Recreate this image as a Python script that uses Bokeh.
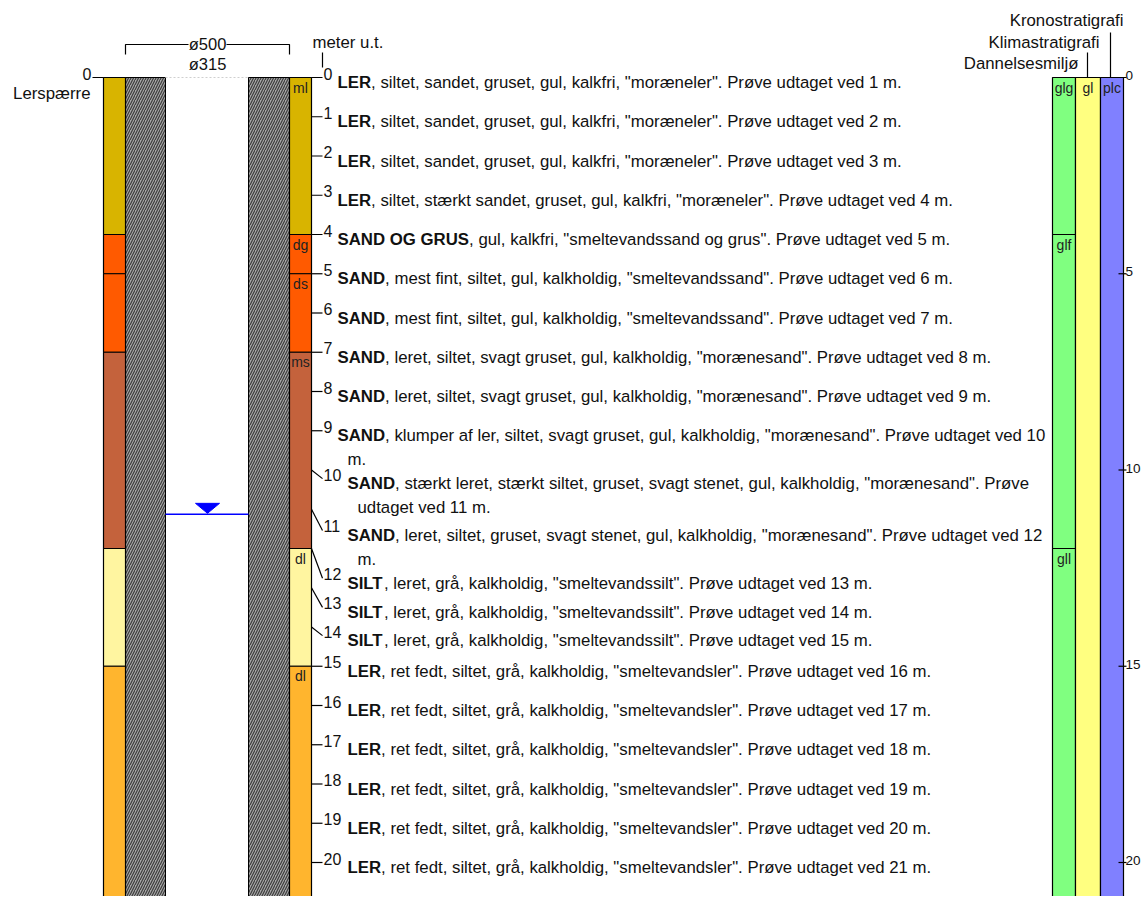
from bokeh.plotting import figure
from bokeh.models import Range1d
from bokeh.core.properties import value
from bokeh.embed import file_html
from bokeh.resources import INLINE

# ---------------- data ----------------
layer_top = [0, 4, 5, 7, 12, 15]
layer_bottom = [4, 5, 7, 12, 15, 22]
layer_code = ["ml", "dg", "ds", "ms", "dl", "dl"]
layer_color = ["#D8B400", "#FF5A00", "#FF5A00", "#C4623C", "#FFF5A0", "#FFB52E"]

env_top = [0, 4, 12]
env_bottom = [4, 12, 22]
env_code = ["glg", "glf", "gll"]

klima_top = [0]
klima_bottom = [22]
klima_code = ["gl"]

krono_top = [0]
krono_bottom = [22]
krono_code = ["plc"]

water_level = 11.13
casing_top = 0
casing_bottom = 22

sample_depth = list(range(21))
# where each description row is anchored (rows 10-14 are pushed down by wrapped text)
label_anchor = [0, 1, 2, 3, 4, 5, 6, 7, 8, 9, 10.22, 11.54, 12.76, 13.50, 14.22,
                15, 16, 17, 18, 19, 20]
desc_bold = ["LER", "LER", "LER", "LER", "SAND OG GRUS", "SAND", "SAND", "SAND", "SAND",
             "SAND", "SAND", "SAND", "SILT", "SILT", "SILT", "LER", "LER", "LER", "LER",
             "LER", "LER"]
desc_rest = [
    ', siltet, sandet, gruset, gul, kalkfri, "moræneler". Prøve udtaget ved 1 m.',
    ', siltet, sandet, gruset, gul, kalkfri, "moræneler". Prøve udtaget ved 2 m.',
    ', siltet, sandet, gruset, gul, kalkfri, "moræneler". Prøve udtaget ved 3 m.',
    ', siltet, stærkt sandet, gruset, gul, kalkfri, "moræneler". Prøve udtaget ved 4 m.',
    ', gul, kalkfri, "smeltevandssand og grus". Prøve udtaget ved 5 m.',
    ', mest fint, siltet, gul, kalkholdig, "smeltevandssand". Prøve udtaget ved 6 m.',
    ', mest fint, siltet, gul, kalkholdig, "smeltevandssand". Prøve udtaget ved 7 m.',
    ', leret, siltet, svagt gruset, gul, kalkholdig, "morænesand". Prøve udtaget ved 8 m.',
    ', leret, siltet, svagt gruset, gul, kalkholdig, "morænesand". Prøve udtaget ved 9 m.',
    ', klumper af ler, siltet, svagt gruset, gul, kalkholdig, "morænesand". Prøve udtaget ved 10\nm.',
    ', stærkt leret, stærkt siltet, gruset, svagt stenet, gul, kalkholdig, "morænesand". Prøve\nudtaget ved 11 m.',
    ', leret, siltet, gruset, svagt stenet, gul, kalkholdig, "morænesand". Prøve udtaget ved 12\nm.',
    ', leret, grå, kalkholdig, "smeltevandssilt". Prøve udtaget ved 13 m.',
    ', leret, grå, kalkholdig, "smeltevandssilt". Prøve udtaget ved 14 m.',
    ', leret, grå, kalkholdig, "smeltevandssilt". Prøve udtaget ved 15 m.',
    ', ret fedt, siltet, grå, kalkholdig, "smeltevandsler". Prøve udtaget ved 16 m.',
    ', ret fedt, siltet, grå, kalkholdig, "smeltevandsler". Prøve udtaget ved 17 m.',
    ', ret fedt, siltet, grå, kalkholdig, "smeltevandsler". Prøve udtaget ved 18 m.',
    ', ret fedt, siltet, grå, kalkholdig, "smeltevandsler". Prøve udtaget ved 19 m.',
    ', ret fedt, siltet, grå, kalkholdig, "smeltevandsler". Prøve udtaget ved 20 m.',
    ', ret fedt, siltet, grå, kalkholdig, "smeltevandsler". Prøve udtaget ved 21 m.',
]
right_ticks = [0, 5, 10, 15, 20]
header_right = ["Kronostratigrafi", "Klimastratigrafi", "Dannelsesmiljø"]

# ---------------- layout helpers ----------------
Y0 = 77.0      # pixel of depth 0
PXM = 39.25    # pixels per metre
W, H = 1141, 896


def off(px):
    return px / PXM


def pyd(py):
    return (py - Y0) / PXM


FONT = value("Liberation Sans")
TXT = "#111111"
FS = 16.8
BOLD_W = {"L": 611, "E": 667, "R": 722, "S": 667, "A": 722, "N": 722, "D": 722,
          "O": 778, "G": 778, "U": 722, "I": 278, "T": 611, " ": 278}

p = figure(width=W, height=H, output_backend="svg", toolbar_location=None,
           x_range=Range1d(0, W), y_range=Range1d(pyd(H), pyd(0)),
           x_axis_type=None, y_axis_type=None, min_border=0,
           outline_line_color=None, background_fill_color="white")
p.grid.visible = False

# ---------- casing (hatched) ----------
p.quad(left=[125, 248], right=[165, 289], top=[casing_top] * 2, bottom=[casing_bottom] * 2,
       fill_color="#a8a8a8", hatch_pattern="/", hatch_color="#3c3c3c", hatch_scale=5,
       hatch_weight=1.2, line_color="black", line_width=1)

# top dotted line inside hole
p.segment(x0=[165], y0=[casing_top], x1=[248], y1=[casing_top], line_color="#cfcfcf",
          line_dash="2 2", line_width=1)

# ---------- left (Lerspærre) column and lithology column ----------
for xl, xr in [(103, 125), (289, 311)]:
    p.quad(left=xl, right=xr, top=layer_top, bottom=layer_bottom, fill_color=layer_color,
           line_color="black", line_width=1.2)

# lithology codes
p.text(x=[300] * len(layer_code), y=[t + off(10) for t in layer_top], text=layer_code,
       text_font=FONT, text_font_size="14px", text_align="center", text_baseline="middle",
       text_color="#222222")

# ---------- right columns ----------
cols = [((1052, 1075), env_top, env_bottom, env_code, "#80FF80"),
        ((1075, 1100), klima_top, klima_bottom, klima_code, "#FFFF80"),
        ((1100, 1123), krono_top, krono_bottom, krono_code, "#8080FF")]
for (xl, xr), tops, bots, codes, col in cols:
    p.quad(left=xl, right=xr, top=tops, bottom=bots, fill_color=col,
           line_color="black", line_width=1.2)
    p.text(x=[(xl + xr) / 2] * len(codes), y=[t + off(10) for t in tops], text=codes,
           text_font=FONT, text_font_size="14px", text_align="center",
           text_baseline="middle", text_color="#222222")

# right depth axis
p.segment(x0=[1118] * len(right_ticks), y0=right_ticks, x1=[1126] * len(right_ticks),
          y1=right_ticks, line_color="black", line_width=1.2)
p.text(x=[1125] * len(right_ticks), y=[t - off(2) for t in right_ticks],
       text=[str(t) for t in right_ticks], text_font=FONT, text_font_size="13.5px",
       text_align="left", text_baseline="middle", text_color=TXT)

# right headers with leader lines
p.text(x=[1123, 1099, 1078], y=[pyd(20), pyd(42), pyd(63)], text=header_right,
       text_font=FONT, text_font_size="16.8px", text_align="right", text_baseline="middle",
       text_color=TXT)
p.segment(x0=[1110, 1087], y0=[pyd(32), pyd(52)], x1=[1110, 1087], y1=[0, 0],
          line_color="black", line_width=1.2)

# ---------- water level ----------
p.segment(x0=[165], y0=[water_level], x1=[248], y1=[water_level], line_color="#0000FF",
          line_width=1.5)
xc = 207
p.patch(x=[xc - 12, xc + 12, xc], y=[water_level - off(11), water_level - off(11),
                                     water_level - off(1)],
        fill_color="#0000FF", line_color="#0000FF")

# ---------- left depth tick ----------
p.segment(x0=[92], y0=[0], x1=[103], y1=[0], line_color="black", line_width=1.2)
p.text(x=[91], y=[0 - off(4)], text=["0"], text_font=FONT, text_font_size="16px",
       text_align="right", text_baseline="middle", text_color=TXT)
p.text(x=[90], y=[pyd(93)], text=["Lerspærre"], text_font=FONT, text_font_size="16.8px",
       text_align="right", text_baseline="middle", text_color=TXT)

# ---------- bracket ø500 / ø315 ----------
p.multi_line(xs=[[125, 125, 188], [226, 289, 289]],
             ys=[[pyd(54), pyd(44), pyd(44)], [pyd(44), pyd(44), pyd(54)]],
             line_color="black", line_width=1.2)
p.text(x=[207, 207], y=[pyd(43), pyd(63)], text=["ø500", "ø315"], text_font=FONT,
       text_font_size="16.5px", text_align="center", text_baseline="middle", text_color=TXT)
p.text(x=[312], y=[pyd(42)], text=["meter u.t."], text_font=FONT, text_font_size="16.8px",
       text_align="left", text_baseline="middle", text_color=TXT)
p.segment(x0=[322], y0=[pyd(52)], x1=[322], y1=[pyd(67)], line_color="black",
          line_width=1.2)

# ---------- middle depth ticks, labels and descriptions ----------
p.segment(x0=[311] * len(sample_depth), y0=sample_depth, x1=[322] * len(sample_depth),
          y1=label_anchor, line_color="black", line_width=1.2)
p.text(x=[323] * len(sample_depth), y=[a - off(4) for a in label_anchor],
       text=[str(d) for d in sample_depth], text_font=FONT, text_font_size="16px",
       text_align="left", text_baseline="middle", text_color=TXT)

bx, by, bt = [], [], []
rx, ry, rt = [], [], []
for d, a, b, r in zip(sample_depth, label_anchor, desc_bold, desc_rest):
    tx = 337 + 10 * (len(str(d)) - 1)
    ty = a + off(5)
    bw = sum(BOLD_W[c] for c in b) * FS / 1000.0
    bx.append(tx); by.append(ty); bt.append(b)
    lines = r.split("\n")
    rx.append(tx + bw); ry.append(ty); rt.append(lines[0])
    for k, ln in enumerate(lines[1:], start=1):
        rx.append(tx + 10); ry.append(ty + off(24) * k); rt.append(ln)

p.text(x=bx, y=by, text=bt, text_font=FONT, text_font_size="16.8px", text_font_style="bold",
       text_align="left", text_baseline="middle", text_color=TXT)
p.text(x=rx, y=ry, text=rt, text_font=FONT, text_font_size="16.8px",
       text_align="left", text_baseline="middle", text_color=TXT)

open("out.html", "w").write(file_html(p, INLINE))
